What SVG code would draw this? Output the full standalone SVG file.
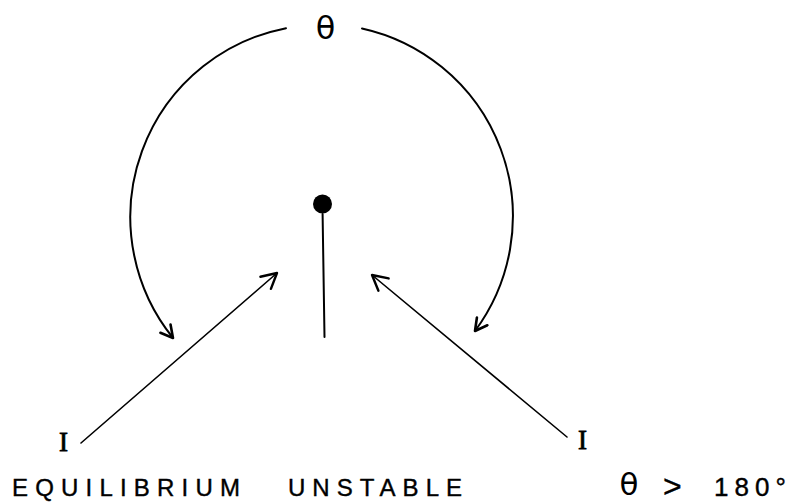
<svg xmlns="http://www.w3.org/2000/svg" width="794" height="503" viewBox="0 0 794 503">
<defs>
<style>
.ln{fill:none;stroke:#000;stroke-linecap:round}
.arc{stroke-width:2}
.ray{stroke-width:1.6}
.lbl{font-family:"Liberation Sans","DejaVu Sans",sans-serif;fill:#000;stroke:#000;stroke-width:0.4}
.th{font-family:"DejaVu Sans","Liberation Sans",sans-serif;fill:#000}
.ser{font-family:"Liberation Serif","DejaVu Serif",serif;fill:#000;stroke:#000;stroke-width:0.8}
</style>
<marker id="ah" viewBox="0 0 20 20" refX="18" refY="10" markerWidth="20" markerHeight="20" markerUnits="userSpaceOnUse" orient="auto">
<path d="M3,2 L18,10 L3,18" fill="none" stroke="#000" stroke-width="2.4" stroke-linecap="round" stroke-linejoin="round"/>
</marker>
<marker id="ahs" viewBox="0 0 16 16" refX="14" refY="8" markerWidth="16" markerHeight="16" markerUnits="userSpaceOnUse" orient="auto">
<path d="M2,1.5 L14,8 L2,14.5" fill="none" stroke="#000" stroke-width="2.6" stroke-linecap="round" stroke-linejoin="round"/>
</marker>
</defs>
<rect width="794" height="503" fill="#fff"/>
<g id="pivot">
<circle cx="322.5" cy="204" r="9.5" fill="#000"/>
<line class="ln" x1="322.6" y1="214" x2="324.5" y2="337" stroke-width="2"/>
</g>
<g id="theta-top"><text class="th" x="325.5" y="39" font-size="32" text-anchor="middle">θ</text></g>
<g id="I-left"><text class="ser" x="63.5" y="451" font-size="27" text-anchor="middle">I</text></g>
<g id="I-right"><text class="ser" x="582.5" y="449" font-size="27" text-anchor="middle">I</text></g>
<g id="caption">
<text class="lbl" x="12" y="496" font-size="24" textLength="228" lengthAdjust="spacing">EQUILIBRIUM</text>
<text class="lbl" x="288" y="496" font-size="24" textLength="174" lengthAdjust="spacing">UNSTABLE</text>
<text class="th" x="629" y="495" font-size="31" text-anchor="middle">θ</text>
<text class="lbl" x="663" y="497" font-size="32" stroke-width="0.2">&gt;</text>
<text class="lbl" x="714" y="496" font-size="26" letter-spacing="6">180°</text>
</g>
<g id="connectors">
<path class="ln arc" d="M286,28.2 A192.5,192.5 0 0 0 173,338" marker-end="url(#ahs)"/>
<path class="ln arc" d="M362,28.4 A192.5,192.5 0 0 1 475,331" marker-end="url(#ahs)"/>
<line class="ln ray" x1="81" y1="443" x2="277" y2="273" marker-end="url(#ah)"/>
<line class="ln ray" x1="567" y1="437" x2="372" y2="275" marker-end="url(#ah)"/>
</g>
</svg>
